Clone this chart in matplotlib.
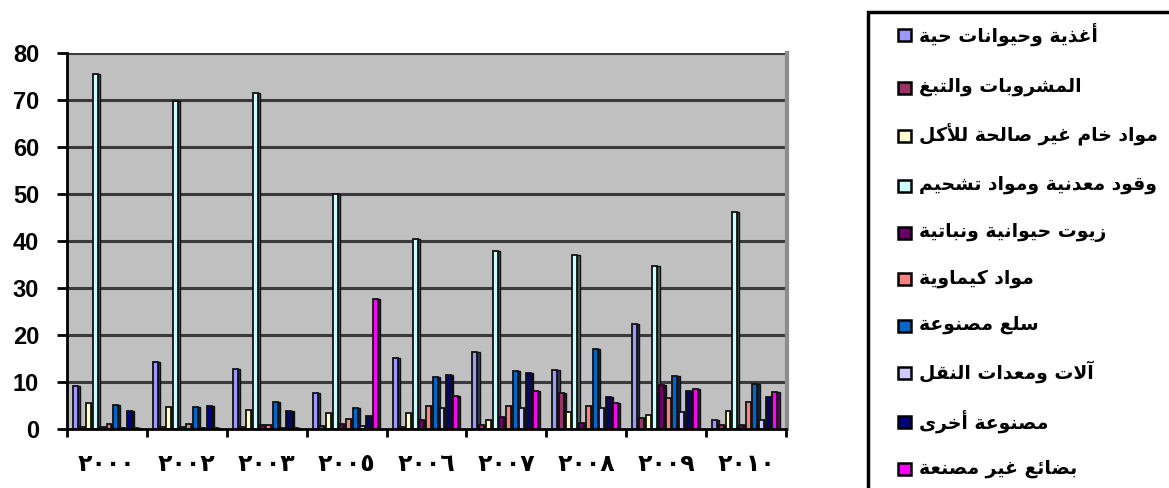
import numpy as np
import matplotlib.pyplot as plt
from matplotlib.patches import Rectangle
from matplotlib.colors import to_rgb

# Years (Arabic-Indic digits) and import groups
years = ['٢٠٠٠', '٢٠٠٢', '٢٠٠٣', '٢٠٠٥', '٢٠٠٦', '٢٠٠٧', '٢٠٠٨', '٢٠٠٩', '٢٠١٠']

groups = [
    'أغذية وحيوانات حية',
    'المشروبات والتبغ',
    'مواد خام غير صالحة للأكل',
    'وقود معدنية ومواد تشحيم',
    'زيوت حيوانية ونباتية',
    'مواد كيماوية',
    'سلع مصنوعة',
    'آلات ومعدات النقل',
    'مصنوعة أخرى',
    'بضائع غير مصنعة',
]

food = [9.0, 14.2, 12.6, 7.5, 15.1, 16.2, 12.5, 22.2, 1.8]
drinks = [0.3, 0.3, 0.3, 0.5, 0.4, 0.7, 7.5, 2.3, 0.7]
raw = [5.5, 4.6, 3.9, 3.3, 3.2, 1.8, 3.6, 2.8, 3.7]
fuel = [75.5, 69.7, 71.4, 49.9, 40.4, 37.9, 37.0, 34.7, 46.1]
oils = [0.3, 0.3, 0.8, 1.0, 1.9, 2.5, 1.2, 9.3, 0.8]
chem = [1.0, 1.0, 0.7, 2.1, 4.8, 4.9, 4.9, 6.4, 5.7]
manuf = [5.0, 4.6, 5.7, 4.4, 11.0, 12.2, 16.9, 11.2, 9.4]
machines = [0.2, 0.2, 0.2, 0.5, 4.4, 4.4, 4.3, 3.5, 1.8]
other = [3.8, 4.7, 3.8, 2.6, 11.5, 11.9, 6.8, 8.0, 6.8]
unmade = [0.2, 0.2, 0.2, 27.6, 6.9, 8.0, 5.5, 8.4, 7.7]

series = [food, drinks, raw, fuel, oils, chem, manuf, machines, other, unmade]
colors = ['#9999FF', '#993366', '#FFFFCC', '#CCFFFF', '#660066',
          '#FF8080', '#0066CC', '#CCCCFF', '#000080', '#FF00FF']

# --- minimal Arabic shaping (presentation forms) since matplotlib has no bidi ---
FORMS = {
    '\u0622': ('\uFE81', '\uFE82'),
    '\u0623': ('\uFE83', '\uFE84'),
    '\u0626': ('\uFE89', '\uFE8A', '\uFE8B', '\uFE8C'),
    '\u0627': ('\uFE8D', '\uFE8E'),
    '\u0628': ('\uFE8F', '\uFE90', '\uFE91', '\uFE92'),
    '\u0629': ('\uFE93', '\uFE94'),
    '\u062A': ('\uFE95', '\uFE96', '\uFE97', '\uFE98'),
    '\u062D': ('\uFEA1', '\uFEA2', '\uFEA3', '\uFEA4'),
    '\u062E': ('\uFEA5', '\uFEA6', '\uFEA7', '\uFEA8'),
    '\u062F': ('\uFEA9', '\uFEAA'),
    '\u0630': ('\uFEAB', '\uFEAC'),
    '\u0631': ('\uFEAD', '\uFEAE'),
    '\u0632': ('\uFEAF', '\uFEB0'),
    '\u0633': ('\uFEB1', '\uFEB2', '\uFEB3', '\uFEB4'),
    '\u0634': ('\uFEB5', '\uFEB6', '\uFEB7', '\uFEB8'),
    '\u0635': ('\uFEB9', '\uFEBA', '\uFEBB', '\uFEBC'),
    '\u0636': ('\uFEBD', '\uFEBE', '\uFEBF', '\uFEC0'),
    '\u0639': ('\uFEC9', '\uFECA', '\uFECB', '\uFECC'),
    '\u063A': ('\uFECD', '\uFECE', '\uFECF', '\uFED0'),
    '\u0642': ('\uFED5', '\uFED6', '\uFED7', '\uFED8'),
    '\u0643': ('\uFED9', '\uFEDA', '\uFEDB', '\uFEDC'),
    '\u0644': ('\uFEDD', '\uFEDE', '\uFEDF', '\uFEE0'),
    '\u0645': ('\uFEE1', '\uFEE2', '\uFEE3', '\uFEE4'),
    '\u0646': ('\uFEE5', '\uFEE6', '\uFEE7', '\uFEE8'),
    '\u0648': ('\uFEED', '\uFEEE'),
    '\u0649': ('\uFEEF', '\uFEF0'),
    '\u064A': ('\uFEF1', '\uFEF2', '\uFEF3', '\uFEF4'),
}
LAM_ALEF = {'\u0627': ('\uFEFB', '\uFEFC'),
            '\u0623': ('\uFEF7', '\uFEF8'),
            '\u0622': ('\uFEF5', '\uFEF6')}


def shape(text):
    chars = []
    i = 0
    while i < len(text):
        c = text[i]
        if c == '\u0644' and i + 1 < len(text) and text[i + 1] in LAM_ALEF:
            chars.append(('LA', text[i + 1]))
            i += 2
        else:
            chars.append(c)
            i += 1

    def dual(c):
        return not isinstance(c, tuple) and c in FORMS and len(FORMS[c]) == 4

    def letter(c):
        return isinstance(c, tuple) or c in FORMS

    out = []
    for k, c in enumerate(chars):
        forms = LAM_ALEF[c[1]] if isinstance(c, tuple) else FORMS.get(c)
        if forms is None:
            out.append(c)
            continue
        prev = chars[k - 1] if k > 0 else None
        nxt = chars[k + 1] if k + 1 < len(chars) else None
        jp = prev is not None and dual(prev)
        jn = len(forms) == 4 and nxt is not None and letter(nxt)
        if jp and jn:
            out.append(forms[3])
        elif jp:
            out.append(forms[1])
        elif jn:
            out.append(forms[2])
        else:
            out.append(forms[0])
    return ''.join(reversed(out))


def darker(c, f=0.5):
    r, g, b = to_rgb(c)
    return (r * f, g * f, b * f)


fig = plt.figure(figsize=(11.69, 4.88), dpi=100)
ax = fig.add_axes([67 / 1169, 1 - 428.5 / 488, 719 / 1169, 375.5 / 488])
ax.set_facecolor('#C0C0C0')

x = np.arange(len(years))
slot = 0.084
front = 0.062
side = 0.028
for i, (vals, col) in enumerate(zip(series, colors)):
    left = x - 0.425 + i * slot
    # dark side face for the 3D look, then the front face
    ax.bar(left + front, vals, width=side, align='edge', color=darker(col, 0.4),
           edgecolor='#111111', linewidth=1.0, zorder=3 + i * 0.01)
    ax.bar(left, vals, width=front, align='edge', color=col,
           edgecolor='#111111', linewidth=1.3, zorder=3 + i * 0.01 + 0.005)

ax.set_xlim(-0.5, 8.5)
ax.set_ylim(0, 80)

# gridlines
for v in range(10, 81, 10):
    ax.axhline(v, color='#3a3a3a', linewidth=2.2, zorder=1)

for s in ['top', 'right']:
    ax.spines[s].set_visible(False)
ax.spines['left'].set_linewidth(2)
ax.spines['bottom'].set_linewidth(2)
ax.spines['bottom'].set_zorder(5)
ax.plot([1.001, 1.001], [0, 1], transform=ax.transAxes, color='#8c8c8c',
        linewidth=3, clip_on=False, zorder=2)

ax.set_yticks(range(0, 81, 10))
ax.set_yticklabels([str(v) for v in range(0, 81, 10)],
                   fontdict={'family': 'Liberation Sans', 'weight': 'bold', 'size': 17})
ax.tick_params(axis='y', length=7, width=2, pad=13)

ax.set_xticks(x)
ax.set_xticklabels(years, family=['DejaVu Sans'], weight='bold', fontsize=17)
ax.tick_params(axis='x', which='major', length=0, pad=17)
ax.set_xticks(np.arange(-0.5, 9, 1), minor=True)
ax.tick_params(axis='x', which='minor', length=6, width=2, direction='out')

# legend box on the right
fig.patches.append(Rectangle((868 / 1169, -0.05), 0.4, 1.05 - 12 / 488,
                             transform=fig.transFigure, fill=False,
                             edgecolor='black', linewidth=2.5))
legend_y = [35, 88, 136, 186, 233, 279, 326, 373, 422, 469]
for name, col, yp in zip(groups, colors, legend_y):
    fig.patches.append(Rectangle((898 / 1169, 1 - (yp + 6) / 488), 13 / 1169, 12 / 488,
                                 transform=fig.transFigure, facecolor=col,
                                 edgecolor='black', linewidth=1.8))
    fig.text(919 / 1169, 1 - (yp - 1) / 488, shape(name), family=['DejaVu Sans'],
             weight='bold', fontsize=13.5, ha='left', va='center')

plt.savefig('out.png', dpi=100)
